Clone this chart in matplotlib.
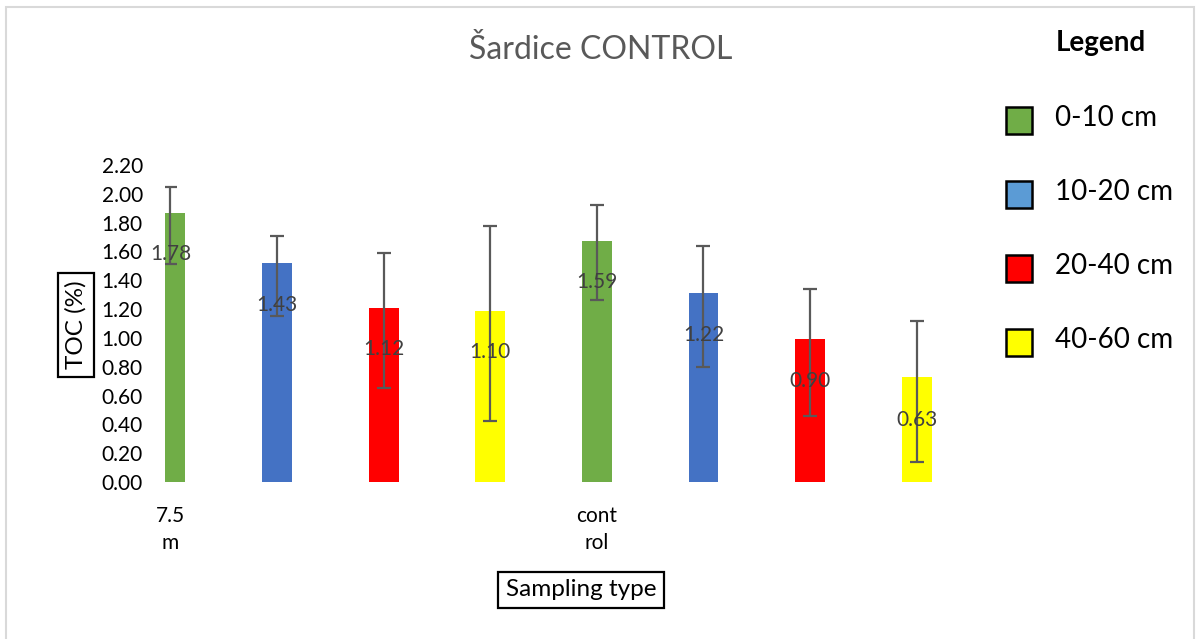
"""Šardice CONTROL: TOC (%) by depth, Excel-style bar chart with error bars."""

import matplotlib

matplotlib.use("Agg")
import matplotlib.pyplot as plt
from matplotlib.patches import Rectangle

plt.rcParams["font.family"] = ["Lato", "DejaVu Sans"]

# ----------------------------------------------------------------------
# Data
# ----------------------------------------------------------------------
depths = ["0-10 cm", "10-20 cm", "20-40 cm", "40-60 cm"]
bar_colors = ["#70AD47", "#4472C4", "#FF0000", "#FFFF00"]
legend_colors = ["#70AD47", "#5B9BD5", "#FF0000", "#FFFF00"]

# 8 bars: two sampling groups (7.5 m, control) x four depths
bar_heights = [1.87, 1.52, 1.21, 1.19, 1.67, 1.31, 0.99, 0.73]
mean_values = [1.78, 1.43, 1.12, 1.10, 1.59, 1.22, 0.90, 0.63]
errors = [0.27, 0.28, 0.47, 0.68, 0.33, 0.42, 0.44, 0.49]

group_ticks = [0, 4]
group_labels = ["7.5\nm", "cont\nrol"]

y_ticks = [0.0, 0.2, 0.4, 0.6, 0.8, 1.0, 1.2, 1.4, 1.6, 1.8, 2.0, 2.2]

W, H = 1196, 639


def fx(px):
    return px / W


def fy(py):
    return 1 - py / H


fig = plt.figure(figsize=(W / 100, H / 100), dpi=100)

# light gray chart border
fig.patches.append(Rectangle((fx(6), fy(645)), fx(1194) - fx(6), fy(7) - fy(645),
                             transform=fig.transFigure, fill=False,
                             edgecolor="#d9d9d9", linewidth=1.5))

ax = fig.add_axes([fx(165), fy(482), fx(969) - fx(165), fy(165) - fy(482)])

positions = list(range(len(bar_heights)))
colors = [bar_colors[i % 4] for i in positions]

ax.bar(positions, bar_heights, width=0.28, color=colors, zorder=2)
ax.errorbar(positions, mean_values, yerr=errors, fmt="none",
            ecolor="#595959", elinewidth=1.6, capsize=5, capthick=1.6, zorder=3)

# data labels sit a bit below the mean
for x, v in zip(positions, mean_values):
    ax.text(x, v - 0.2, f"{v:.2f}", ha="center", va="center",
            fontsize=15, color="#404040", zorder=4)

ax.set_xlim(-0.05, 7.49)
ax.set_ylim(0, 2.2)
ax.set_yticks(y_ticks)
ax.set_yticklabels([f"{t:.2f}" for t in y_ticks], fontsize=15)
ax.set_xticks(group_ticks)
ax.set_xticklabels(group_labels, fontsize=15, linespacing=1.45)
ax.tick_params(axis="y", length=0, pad=16)
ax.tick_params(axis="x", length=0, pad=17)
for s in ax.spines.values():
    s.set_visible(False)

# title
fig.text(fx(601), fy(50), "Šardice CONTROL", ha="center", va="center",
         fontsize=23, color="#595959")

# axis titles in boxes
box = dict(boxstyle="square,pad=0.3", facecolor="white", edgecolor="black", linewidth=1.6)
fig.text(fx(76), fy(325), "TOC (%)", rotation=90, ha="center", va="center",
         fontsize=17.5, bbox=box)
fig.text(fx(581), fy(590), "Sampling type", ha="center", va="center",
         fontsize=17.5, bbox=box)

# manual legend on the right
fig.text(fx(1101), fy(43), "Legend", ha="center", va="center",
         fontsize=20, fontweight="bold")
for i, (lab, c) in enumerate(zip(depths, legend_colors)):
    yc = 120 + i * 74
    fig.patches.append(Rectangle((fx(1006), fy(yc + 14)), fx(26), 27 / H,
                                 transform=fig.transFigure, facecolor=c,
                                 edgecolor="black", linewidth=1.8))
    fig.text(fx(1055), fy(yc - 2), lab, ha="left", va="center", fontsize=20)

fig.savefig("out.png", dpi=100)
